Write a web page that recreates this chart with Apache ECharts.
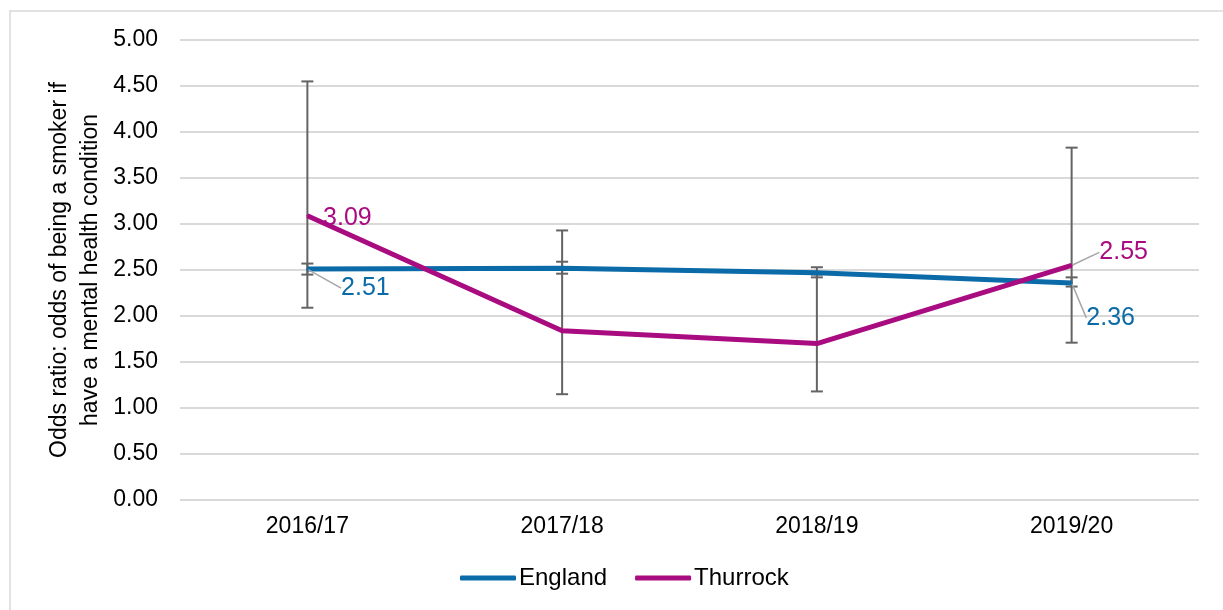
<!DOCTYPE html>
<html>
<head>
<meta charset="utf-8">
<script src="https://cdn.jsdelivr.net/npm/echarts@6/dist/echarts.min.js"></script>
<style>
  html, body { margin: 0; padding: 0; background: #fff; }
  #chart { width: 1223px; height: 610px; }
</style>
</head>
<body>
<div id="chart"></div>
<script>
var years = ['2016/17', '2017/18', '2018/19', '2019/20']
var yTicks = [0, 0.5, 1, 1.5, 2, 2.5, 3, 3.5, 4, 4.5, 5]

var englandValues = [2.51, 2.52, 2.47, 2.36]
var englandLower = [2.45, 2.46, 2.42, 2.32]
var englandUpper = [2.57, 2.59, 2.53, 2.42]

var thurrockValues = [3.09, 1.84, 1.70, 2.55]
var thurrockLower = [2.09, 1.15, 1.18, 1.71]
var thurrockUpper = [4.55, 2.93, 2.45, 3.83]

var blue = '#0b6aa8'
var magenta = '#a90b80'
var fontName = 'Liberation Sans, Arial, sans-serif'

// label offsets from the point (only first/last points are labelled)
var labelOffsets = {
  '0-0': { dx: 58, dy: 19, line: true },
  '0-3': { dx: 39, dy: 35, line: true },
  '1-0': { dx: 40, dy: 2, line: false },
  '1-3': { dx: 52, dy: -13, line: true }
}

function pointData (values, color, s) {
  return values.map(function (v, i) {
    var o = labelOffsets[s + '-' + i]
    return {
      value: v,
      label: { show: !!o, color: color },
      labelLine: { show: !!(o && o.line) }
    }
  })
}

function errorData (lower, upper) {
  return lower.map(function (lo, i) {
    return [i, lo, upper[i]]
  })
}

function renderErrorBar (params, api) {
  var x = api.value(0)
  var lo = api.coord([x, api.value(1)])
  var hi = api.coord([x, api.value(2)])
  var half = 6
  var style = { stroke: '#646464', lineWidth: 2 }
  return {
    type: 'group',
    children: [
      { type: 'line', shape: { x1: lo[0], y1: lo[1], x2: hi[0], y2: hi[1] }, style: style },
      { type: 'line', shape: { x1: lo[0] - half, y1: lo[1], x2: lo[0] + half, y2: lo[1] }, style: style },
      { type: 'line', shape: { x1: hi[0] - half, y1: hi[1], x2: hi[0] + half, y2: hi[1] }, style: style }
    ]
  }
}

function layoutLabel (s) {
  return function (params) {
    var o = labelOffsets[s + '-' + params.dataIndex]
    if (!o) return {}
    return { dx: o.dx, dy: o.dy }
  }
}

var chart = echarts.init(document.getElementById('chart'))
chart.setOption({
  backgroundColor: '#fff',
  animation: false,
  textStyle: { fontFamily: fontName },
  graphic: [
    {
      type: 'rect',
      shape: { x: 10, y: 11, width: 1300, height: 700 },
      style: { fill: null, stroke: '#d9d9d9', lineWidth: 1.5 },
      silent: true,
      z: -1
    }
  ],
  grid: {
    left: 180,
    right: 24,
    top: 40,
    bottom: 110
  },
  legend: {
    data: ['England', 'Thurrock'],
    bottom: 15,
    left: 455,
    icon: 'roundRect',
    itemWidth: 56,
    itemHeight: 5,
    itemGap: 28,
    textStyle: { color: '#000', fontSize: 24, fontFamily: fontName, padding: [0, 0, 0, -2] }
  },
  xAxis: {
    type: 'category',
    data: years,
    axisLine: { show: false },
    axisTick: { show: false },
    axisLabel: { color: '#000', fontSize: 23, margin: 15, fontFamily: fontName },
    splitLine: { show: false }
  },
  yAxis: {
    type: 'value',
    min: yTicks[0],
    max: yTicks[yTicks.length - 1],
    interval: 0.5,
    name: 'Odds ratio: odds of being a smoker if\nhave a mental health condition',
    nameLocation: 'middle',
    nameGap: 74,
    nameMoveOverlap: false,
    nameTextStyle: { color: '#000', fontSize: 23, lineHeight: 31, fontFamily: fontName },
    axisLine: { show: false },
    axisTick: { show: false },
    axisLabel: {
      color: '#000',
      fontSize: 23,
      margin: 22,
      fontFamily: fontName,
      formatter: function (v) { return v.toFixed(2) }
    },
    splitLine: { show: true, lineStyle: { color: '#d9d9d9', width: 2 } }
  },
  series: [
    {
      name: 'England error',
      type: 'custom',
      renderItem: renderErrorBar,
      data: errorData(englandLower, englandUpper),
      encode: { x: 0, y: [1, 2] },
      z: 1,
      silent: true
    },
    {
      name: 'Thurrock error',
      type: 'custom',
      renderItem: renderErrorBar,
      data: errorData(thurrockLower, thurrockUpper),
      encode: { x: 0, y: [1, 2] },
      z: 1,
      silent: true
    },
    {
      name: 'England',
      type: 'line',
      data: pointData(englandValues, blue, 0),
      symbol: 'circle',
      symbolSize: 2,
      color: blue,
      lineStyle: { width: 5, color: blue },
      itemStyle: { color: blue },
      label: {
        position: 'inside',
        fontSize: 25,
        fontFamily: fontName,
        formatter: function (p) { return p.value.toFixed(2) }
      },
      labelLine: { lineStyle: { color: '#a6a6a6', width: 1.5 } },
      labelLayout: layoutLabel(0),
      z: 3
    },
    {
      name: 'Thurrock',
      type: 'line',
      data: pointData(thurrockValues, magenta, 1),
      symbol: 'circle',
      symbolSize: 2,
      color: magenta,
      lineStyle: { width: 5, color: magenta },
      itemStyle: { color: magenta },
      label: {
        position: 'inside',
        fontSize: 25,
        fontFamily: fontName,
        formatter: function (p) { return p.value.toFixed(2) }
      },
      labelLine: { lineStyle: { color: '#a6a6a6', width: 1.5 } },
      labelLayout: layoutLabel(1),
      z: 4
    }
  ]
})
</script>
</body>
</html>
